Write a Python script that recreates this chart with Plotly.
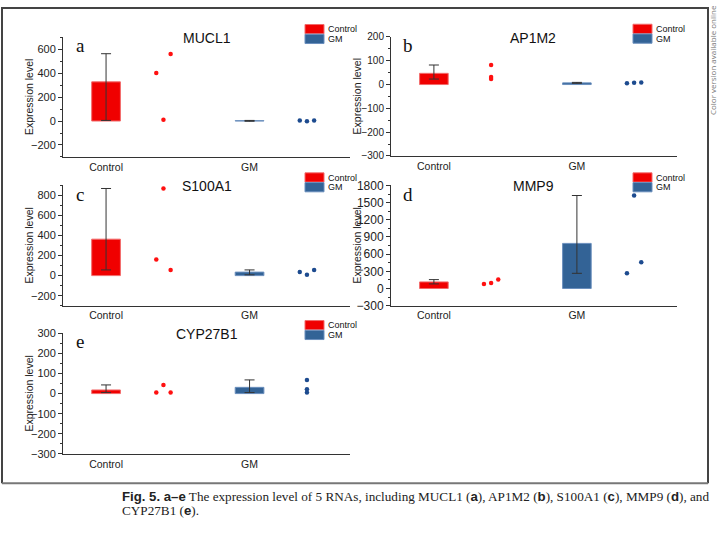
import plotly.graph_objects as go

# ---------------- data ----------------
genes = ["MUCL1", "AP1M2", "S100A1", "MMP9", "CYP27B1"]
letters = ["a", "b", "c", "d", "e"]
groups = ["Control", "GM"]

# bar heights (mean expression)
control_mean = [327, 47, 364, 115, 18]
gm_mean = [3, 7, 35, 788, 31]

# error bar extents (min / max of the replicate points)
control_low = [5, 23, 57, 80, 5]
control_high = [562, 82, 870, 155, 43]
gm_low = [-2, 5, 8, 265, 5]
gm_high = [5, 9, 57, 1625, 68]

# replicate points
control_points = [[400, 10, 560], [82, 32, 23], [160, 870, 57], [80, 95, 155], [5, 43, 5]]
gm_points = [[5, -2, 5], [5, 7, 9], [35, 8, 57], [265, 1625, 460], [67, 22, 5]]
# horizontal slot of each replicate point (-1, 0, +1)
control_slots = [[-1, 0, 1], [0, 0, 0], [-1, 0, 1], [-1, 0, 1], [-1, 0, 1]]
gm_slots = [[-1, 0, 1], [-1, 0, 1], [-1, 0, 1], [-1, 0, 1], [0, 0, 0]]

# y axis settings
y_ranges = [[-300, 700], [-300, 200], [-300, 900], [-300, 1800], [-300, 300]]
y_dticks = [200, 100, 200, 300, 100]
y_minor = [100, 50, 100, 150, 50]

# ---------------- layout helpers ----------------
W, H = 718, 534
RED = "#f00000"
BLUE = "#336396"
RED_PT = "#ff1010"
BLUE_PT = "#1d4b8f"
AXC = "#333333"

def px(x):
    return x / W

def py(y):
    return 1 - y / H

# panel boxes in page pixels: (left, right, top, bottom)
boxes = [
    (63, 350, 31, 154),
    (391, 677, 30.7, 153),
    (63, 350, 183.3, 306.7),
    (391, 677, 183.3, 306.7),
    (63, 350, 335, 459),
]
tick_sizes = [11, 10, 11, 12, 11]

fig = go.Figure()
annotations = []
shapes = []

cat_x = [1, 2]
pt_offset = 0.40
slot_w = 0.05

for i in range(5):
    xa = "x" if i == 0 else f"x{i+1}"
    ya = "y" if i == 0 else f"y{i+1}"
    means = [control_mean[i], gm_mean[i]]
    lows = [control_low[i], gm_low[i]]
    highs = [control_high[i], gm_high[i]]
    colors = [RED, BLUE]
    lines = ["#f26a6a", "#6b8fbd"]
    for g in range(2):
        fig.add_trace(go.Bar(
            x=[cat_x[g]], y=[means[g]], width=0.2,
            marker=dict(color=colors[g], line=dict(color=lines[g], width=1)),
            error_y=dict(type="data", symmetric=False,
                         array=[highs[g] - means[g]], arrayminus=[means[g] - lows[g]],
                         color=AXC, thickness=1, width=5),
            xaxis=xa, yaxis=ya, showlegend=False, name=groups[g]))
    pts = [control_points[i], gm_points[i]]
    slots = [control_slots[i], gm_slots[i]]
    pcol = [RED_PT, BLUE_PT]
    for g in range(2):
        fig.add_trace(go.Scatter(
            x=[cat_x[g] + pt_offset + s * slot_w for s in slots[g]], y=pts[g],
            mode="markers", marker=dict(color=pcol[g], size=4.5, symbol="circle"),
            xaxis=xa, yaxis=ya, showlegend=False, hoverinfo="y"))

    l, r, t, b = boxes[i]
    xkey = "xaxis" if i == 0 else f"xaxis{i+1}"
    ykey = "yaxis" if i == 0 else f"yaxis{i+1}"
    fig.layout[xkey] = dict(
        domain=[px(l), px(r)], range=[0.7, 2.7], anchor=ya,
        tickvals=cat_x, ticktext=groups, showline=True, linecolor=AXC, linewidth=1,
        ticks="", showgrid=False, zeroline=False,
        tickfont=dict(family="Liberation Sans, Arial", size=10.5, color="#222"))
    fig.layout[ykey] = dict(
        domain=[py(b), py(t)], range=y_ranges[i], anchor=xa,
        tick0=0, dtick=y_dticks[i], showline=True, linecolor=AXC, linewidth=1,
        ticks="outside", ticklen=4, tickcolor=AXC, showgrid=False, zeroline=False,
        minor=dict(dtick=y_minor[i], ticks="outside", ticklen=2, tickcolor=AXC, showgrid=False),
        tickfont=dict(family="Liberation Sans, Arial", size=tick_sizes[i], color="#222"))

    # title
    cx = 207 if l < 200 else 533
    annotations.append(dict(text=genes[i], x=px(cx), y=py(t + 1), xref="paper", yref="paper",
                            showarrow=False, xanchor="center", yanchor="middle",
                            font=dict(family="Liberation Sans, Arial", size=14, color="#111")))
    # panel letter
    lx = l + 17
    annotations.append(dict(text=letters[i], x=px(lx), y=py(t + 9), xref="paper", yref="paper",
                            showarrow=False, xanchor="center", yanchor="middle",
                            font=dict(family="Liberation Serif, Times New Roman", size=19, color="#111")))
    # y axis title
    annotations.append(dict(text="Expression level", x=px(l - 34), y=py((t + b) / 2),
                            xref="paper", yref="paper", showarrow=False, textangle=-90,
                            xanchor="center", yanchor="middle",
                            font=dict(family="Liberation Sans, Arial", size=10.5, color="#222")))
    # legend (manual)
    lgx = 305 if l < 200 else 633
    lgy = t - 13
    for g in range(2):
        y0 = lgy + g * 10
        shapes.append(dict(type="rect", xref="paper", yref="paper",
                           x0=px(lgx), x1=px(lgx + 19), y0=py(y0 + 9.5), y1=py(y0),
                           fillcolor=colors[g], line=dict(color=lines[g], width=1)))
        annotations.append(dict(text=groups[g], x=px(lgx + 21), y=py(y0 + 5), xref="paper", yref="paper",
                                showarrow=False, xanchor="left", yanchor="middle",
                                font=dict(family="Liberation Sans, Arial", size=9, color="#111")))

# figure border
BORD = "#444444"
shapes += [
    dict(type="line", xref="paper", yref="paper", x0=px(2), x1=px(2), y0=py(0), y1=py(489),
         line=dict(color=BORD, width=2)),
    dict(type="line", xref="paper", yref="paper", x0=px(2), x1=px(708), y0=py(1), y1=py(1),
         line=dict(color=BORD, width=2)),
    dict(type="line", xref="paper", yref="paper", x0=px(708), x1=px(708), y0=py(0), y1=py(489),
         line=dict(color=BORD, width=2)),
    dict(type="line", xref="paper", yref="paper", x0=px(2), x1=px(708), y0=py(489), y1=py(489),
         line=dict(color="#777777", width=2)),
]

# side note
annotations.append(dict(text="Color version available online", x=px(712.5), y=py(55),
                        xref="paper", yref="paper", showarrow=False, textangle=-90,
                        xanchor="center", yanchor="middle", borderpad=0,
                        font=dict(family="Open Sans, Liberation Sans", size=8, color="#777")))

# caption
SB = "font-family:'Liberation Sans', Arial;font-weight:bold"
cap1 = (f"<span style=\"{SB}\">Fig. 5. a–e</span> The expression level of 5 RNAs, including MUCL1 "
        f"(<span style=\"{SB}\">a</span>), AP1M2 (<span style=\"{SB}\">b</span>), S100A1 "
        f"(<span style=\"{SB}\">c</span>), MMP9 (<span style=\"{SB}\">d</span>), and")
cap2 = f"CYP27B1 (<span style=\"{SB}\">e</span>)."
for txt, yy in [(cap1, 503), (cap2, 517)]:
    annotations.append(dict(text=txt, x=px(120), y=py(yy), xref="paper", yref="paper",
                            showarrow=False, xanchor="left", yanchor="middle",
                            font=dict(family="Liberation Serif, Times New Roman", size=13.2, color="#222")))

fig.update_layout(
    width=W, height=H, margin=dict(l=0, r=0, t=0, b=0),
    paper_bgcolor="white", plot_bgcolor="white", barmode="overlay",
    annotations=annotations, shapes=shapes, showlegend=False,
)

post = (
    "document.documentElement.style.margin='0';document.documentElement.style.padding='0';"
    "document.documentElement.style.overflow='hidden';"
    "document.body.style.margin='0';document.body.style.padding='0';document.body.style.overflow='hidden';"
    "var d=document.getElementsByClassName('plotly-graph-div')[0];"
    "if(d){d.style.position='fixed';d.style.top='0px';d.style.left='0px';}"
)
fig.write_html("out.html", config={"displayModeBar": False}, post_script=post)
